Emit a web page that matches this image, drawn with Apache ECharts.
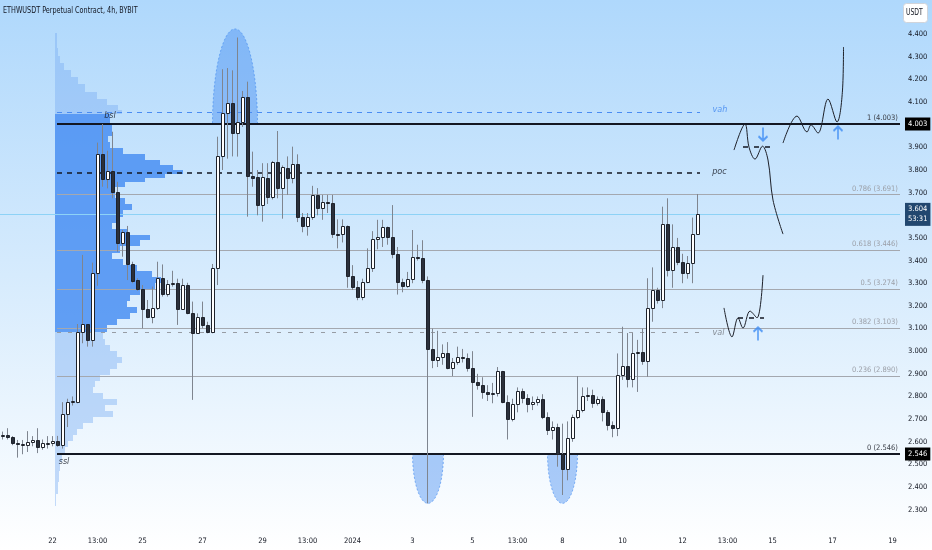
<!DOCTYPE html>
<html>
<head>
<meta charset="utf-8">
<title>ETHWUSDT 4h</title>
<script src="https://cdn.jsdelivr.net/npm/echarts@6/dist/echarts.min.js"></script>
<style>
html, body { margin: 0; padding: 0; background: #fff; }
#chart { width: 932px; height: 550px; }
</style>
</head>
<body>
<div id="chart"></div>
<script>
// 4h bars, the first one is Dec 20 08:00
var firstBar = Date.UTC(2023, 11, 20, 8);
var barCount = 180;
var timeTickBar = [10, 19, 28, 40, 52, 61, 70, 82, 94, 103, 112, 124, 136, 145, 154, 166, 178];
var timeTickText = ['22', '13:00', '25', '27', '29', '13:00', '2024', '3', '5', '13:00', '8', '10', '12', '13:00', '15', '17', '19'];
var priceTicks = [2.3, 2.4, 2.5, 2.6, 2.7, 2.8, 2.9, 3.0, 3.1, 3.2, 3.3, 3.4, 3.5, 3.7, 3.8, 3.9, 4.1, 4.2, 4.3, 4.4];

// open, close, low, high
var ohlc = [
  [2.625, 2.628, 2.61, 2.645], [2.628, 2.619, 2.61, 2.66], [2.619, 2.595, 2.585, 2.625], [2.594, 2.590, 2.53, 2.608],
  [2.590, 2.592, 2.545, 2.608], [2.585, 2.600, 2.555, 2.647], [2.599, 2.608, 2.58, 2.625], [2.608, 2.578, 2.55, 2.66],
  [2.578, 2.593, 2.565, 2.61], [2.593, 2.596, 2.57, 2.625], [2.596, 2.605, 2.58, 2.625], [2.605, 2.586, 2.578, 2.626],
  [2.586, 2.723, 2.57, 2.775], [2.723, 2.776, 2.665, 2.79], [2.776, 2.78, 2.76, 2.80], [2.777, 3.083, 2.77, 3.12],
  [3.083, 3.119, 3.035, 3.425], [3.119, 3.049, 3.02, 3.12], [3.049, 3.344, 3.02, 3.391], [3.344, 3.869, 3.289, 3.921],
  [3.869, 3.760, 3.726, 4.003], [3.760, 3.797, 3.719, 3.885], [3.797, 3.704, 3.675, 3.969], [3.704, 3.479, 3.439, 3.748],
  [3.479, 3.528, 3.417, 3.535], [3.528, 3.385, 3.314, 3.553], [3.385, 3.311, 3.30, 3.395], [3.314, 3.273, 3.267, 3.322],
  [3.273, 3.185, 3.101, 3.292], [3.185, 3.152, 3.145, 3.226], [3.152, 3.189, 3.123, 3.285], [3.189, 3.322, 3.182, 3.395],
  [3.322, 3.253, 3.241, 3.383], [3.253, 3.297, 3.241, 3.314], [3.301, 3.303, 3.285, 3.355], [3.303, 3.188, 3.116, 3.32],
  [3.188, 3.292, 3.182, 3.32], [3.292, 3.170, 3.163, 3.302], [3.170, 3.082, 2.785, 3.219], [3.082, 3.149, 3.079, 3.167],
  [3.149, 3.116, 3.101, 3.219], [3.116, 3.086, 3.079, 3.13], [3.086, 3.369, 3.079, 3.385], [3.369, 3.862, 3.292, 3.947],
  [3.862, 4.053, 3.80, 4.245], [4.053, 4.097, 3.85, 4.25], [4.097, 3.962, 3.86, 4.24], [3.962, 4.01, 3.859, 4.385],
  [4.01, 4.121, 3.99, 4.149], [4.121, 3.773, 3.594, 4.19], [3.773, 3.765, 3.726, 3.881], [3.770, 3.645, 3.60, 3.80],
  [3.645, 3.770, 3.572, 3.83], [3.763, 3.682, 3.65, 3.83], [3.682, 3.834, 3.67, 3.84], [3.834, 3.719, 3.675, 3.972],
  [3.719, 3.812, 3.585, 3.82], [3.807, 3.763, 3.69, 3.86], [3.763, 3.826, 3.741, 3.903], [3.826, 3.591, 3.57, 3.869],
  [3.591, 3.554, 3.525, 3.61], [3.554, 3.591, 3.51, 3.61], [3.591, 3.69, 3.58, 3.73], [3.69, 3.63, 3.60, 3.72],
  [3.63, 3.66, 3.58, 3.69], [3.66, 3.655, 3.61, 3.69], [3.655, 3.517, 3.50, 3.69], [3.517, 3.512, 3.454, 3.582],
  [3.517, 3.553, 3.48, 3.582], [3.553, 3.333, 3.28, 3.555], [3.333, 3.285, 3.27, 3.38], [3.285, 3.24, 3.225, 3.31],
  [3.24, 3.307, 3.225, 3.32], [3.307, 3.366, 3.30, 3.454], [3.366, 3.494, 3.35, 3.53], [3.494, 3.505, 3.45, 3.58],
  [3.505, 3.547, 3.46, 3.58], [3.547, 3.503, 3.47, 3.55], [3.503, 3.429, 3.41, 3.645], [3.429, 3.307, 3.25, 3.46],
  [3.307, 3.289, 3.26, 3.32], [3.289, 3.317, 3.28, 3.35], [3.317, 3.417, 3.30, 3.535], [3.417, 3.41, 3.40, 3.47],
  [3.41, 3.314, 3.30, 3.49], [3.314, 3.008, 2.328, 3.33], [3.008, 2.961, 2.925, 3.10], [2.961, 2.973, 2.93, 3.09],
  [2.973, 2.993, 2.94, 3.03], [2.993, 2.927, 2.92, 3.04], [2.927, 2.954, 2.89, 2.97], [2.954, 2.976, 2.94, 3.02],
  [2.976, 2.97, 2.95, 3.01], [2.97, 2.927, 2.91, 2.99], [2.927, 2.865, 2.71, 3.00], [2.865, 2.85, 2.83, 2.90],
  [2.85, 2.82, 2.79, 2.885], [2.82, 2.81, 2.78, 2.85], [2.81, 2.814, 2.77, 2.86], [2.814, 2.913, 2.80, 2.93],
  [2.913, 2.777, 2.77, 2.913], [2.777, 2.70, 2.61, 2.805], [2.70, 2.765, 2.69, 2.79], [2.765, 2.822, 2.73, 2.84],
  [2.822, 2.792, 2.77, 2.835], [2.792, 2.765, 2.73, 2.81], [2.765, 2.774, 2.74, 2.80], [2.774, 2.787, 2.76, 2.80],
  [2.787, 2.71, 2.70, 2.81], [2.71, 2.652, 2.63, 2.73], [2.652, 2.664, 2.61, 2.69], [2.664, 2.546, 2.49, 2.68],
  [2.546, 2.478, 2.365, 2.68], [2.478, 2.615, 2.43, 2.69], [2.615, 2.71, 2.60, 2.72], [2.71, 2.74, 2.70, 2.89],
  [2.74, 2.80, 2.73, 2.84], [2.80, 2.805, 2.78, 2.84], [2.805, 2.77, 2.75, 2.83], [2.77, 2.787, 2.76, 2.80],
  [2.787, 2.73, 2.69, 2.80], [2.73, 2.674, 2.65, 2.74], [2.674, 2.66, 2.62, 2.69], [2.66, 2.895, 2.625, 2.99],
  [2.895, 2.936, 2.873, 3.108], [2.936, 2.876, 2.84, 3.08], [2.876, 2.99, 2.84, 3.08], [2.99, 2.998, 2.82, 3.05],
  [2.998, 2.958, 2.94, 3.10], [2.958, 3.189, 2.887, 3.322], [3.189, 3.27, 3.13, 3.37], [3.27, 3.226, 3.21, 3.28],
  [3.226, 3.56, 3.19, 3.638], [3.56, 3.358, 3.33, 3.675], [3.358, 3.461, 3.28, 3.56], [3.461, 3.395, 3.38, 3.50],
  [3.395, 3.344, 3.30, 3.43], [3.344, 3.388, 3.32, 3.42], [3.388, 3.517, 3.30, 3.59], [3.517, 3.604, 3.53, 3.694]
];
var lastPrice = 3.604;
var countdown = '53:31';

// visible range volume profile: row price, relative volume
var profilePrice = [
  4.387, 4.352, 4.321, 4.286, 4.255, 4.224, 4.193, 4.162, 4.131, 4.10, 4.074, 4.056,
  4.038, 4.016, 3.99, 3.963, 3.937, 3.91, 3.884, 3.857, 3.831, 3.809, 3.791, 3.773, 3.756, 3.738, 3.716, 3.69,
  3.663, 3.637, 3.61, 3.579, 3.553, 3.526, 3.50, 3.478, 3.451, 3.42, 3.394, 3.367, 3.341, 3.314, 3.288, 3.261,
  3.235, 3.208, 3.182, 3.155, 3.129, 3.102,
  3.067, 3.041, 3.014, 2.988, 2.961, 2.935, 2.908, 2.882, 2.855, 2.829, 2.802, 2.776, 2.749, 2.723, 2.696, 2.67,
  2.643, 2.617, 2.59, 2.564, 2.528, 2.493, 2.449, 2.396, 2.343
];
var profileVol = [
  2, 2, 3, 5, 9, 16, 23, 30, 42, 52, 63, 67,
  55, 55, 57, 57, 53, 55, 68, 90, 105, 118, 128, 110, 90, 70, 58, 60,
  70, 77, 68, 62, 57, 72, 95, 85, 65, 57, 68, 82, 97, 106, 100, 85,
  75, 72, 82, 75, 62, 52,
  48, 50, 55, 62, 67, 62, 55, 45, 40, 38, 48, 62, 50, 58, 38, 28,
  22, 18, 13, 10, 7, 5, 4, 3, 1
];
var vah = 4.056, poc = 3.788, val = 3.085;
var levelStartBar = 10.9, levelEndBar = 139.5;

var fibRatio = [1, 0.786, 0.618, 0.5, 0.382, 0.236, 0];
var fibPrice = [4.003, 3.691, 3.446, 3.274, 3.103, 2.890, 2.546];

// liquidity sweeps: centre bar, half width in bars, base price, tip price
var sweepBar = [46.5, 85.1, 112.0];
var sweepHalf = [4.5, 3.1, 3.0];
var sweepBase = [4.003, 2.546, 2.546];
var sweepTip = [4.423, 2.328, 2.328];

var tagText = ['bsl', 'ssl', 'vah', 'poc', 'val'];
var tagBar = [21.5, 12.3, 143.5, 143.4, 143.2];
var tagPrice = [4.038, 2.511, 4.065, 3.793, 3.082];
var tagColor = ['#131722', '#131722', '#3f86f0', '#131722', '#6f747c'];

// hand drawn projections (bar, price)
var pathTopA = [[146.3, 3.888], [148.5, 4.003], [149.3, 3.901], [150.5, 3.848], [152.0, 3.905], [153.1, 3.844], [154.1, 3.667], [156.1, 3.517]];
var pathTopB = [[156.1, 3.919], [158.9, 4.038], [160.9, 3.968], [161.7, 3.999], [163.1, 3.963], [165.1, 4.113], [166.9, 4.012], [168.0, 4.153], [168.2, 4.343]];
var pathLow = [[144.3, 3.191], [145.9, 3.063], [147.1, 3.147], [148.1, 3.102], [149.5, 3.177], [150.9, 3.147], [152.1, 3.336]];
var dashTop = [[148.1, 3.901], [154.4, 3.901]];
var dashLow = [[147.1, 3.147], [152.3, 3.147]];
var arrowBar = [152.1, 151.1, 167.1];
var arrowPrice = [3.959, 3.076, 3.963];
var arrowDir = ['down', 'up', 'up'];

var uiFont = "'Liberation Sans Narrow', 'DejaVu Sans Condensed', 'Liberation Sans', sans-serif";
var yMin = 2.2105, yMax = 4.5505;

var categories = [];
for (var i = 0; i < barCount; i++) {
  var d = new Date(firstBar + i * 4 * 3600 * 1000);
  categories.push(d.toISOString().slice(5, 13).replace('T', ' ') + ':00');
}
var tickAt = {};
timeTickBar.forEach(function (b, k) { tickAt[b] = timeTickText[k]; });

function renderCandle(params, api) {
  var x = api.value(0);
  var o = api.value(1), c = api.value(2), l = api.value(3), h = api.value(4);
  var pO = api.coord([x, o]), pC = api.coord([x, c]);
  var pL = api.coord([x, l]), pH = api.coord([x, h]);
  var cx = Math.round(pO[0] - 0.5) + 0.5;
  var top = Math.round(Math.min(pO[1], pC[1])) + 0.5;
  var bot = Math.round(Math.max(pO[1], pC[1])) + 0.5;
  var up = c >= o;
  return {
    type: 'group',
    children: [
      { type: 'line', shape: { x1: cx, y1: pH[1], x2: cx, y2: pL[1] }, style: { stroke: '#7f858f', lineWidth: 1 } },
      { type: 'rect', shape: { x: cx - 1, y: top, width: 3, height: Math.max(bot - top, 1) },
        style: { fill: up ? '#ffffff' : '#2b303b', stroke: '#1e222b', lineWidth: 1 } }
    ]
  };
}

function renderProfile(params, api) {
  var k = params.dataIndex, n = profilePrice.length;
  var p = profilePrice[k];
  var hi = k > 0 ? (profilePrice[k - 1] + p) / 2 : p + (p - profilePrice[k + 1]) / 2;
  var lo = k < n - 1 ? (p + profilePrice[k + 1]) / 2 : p - (profilePrice[k - 1] - p) / 2;
  var a = api.coord([0, hi]);
  var b = api.coord([api.value(0), lo]);
  var y0 = Math.round(a[1]), y1 = Math.round(b[1]);
  var inside = p > val && p < vah - 0.001;
  return {
    type: 'rect',
    shape: { x: a[0], y: y0, width: b[0] - a[0], height: Math.max(y1 - y0, 1) },
    style: { fill: inside ? 'rgba(72,142,242,0.84)' : 'rgba(118,172,244,0.42)' }
  };
}

function renderSweep(params, api) {
  var cx = api.value(0), hw = api.value(1), base = api.value(2), tip = api.value(3);
  var pts = [];
  for (var s = 0; s <= 40; s++) {
    var t = Math.PI * s / 40;
    pts.push(api.coord([cx + hw * Math.cos(t), base + (tip - base) * Math.sin(t)]));
  }
  return {
    type: 'polygon',
    shape: { points: pts },
    style: { fill: 'rgba(62,136,240,0.42)', stroke: 'rgba(62,136,240,0.75)', lineWidth: 0.8, lineDash: [2, 2] }
  };
}

var lineLevels = [];
fibRatio.forEach(function (r, k) {
  var edge = (r === 1 || r === 0);
  lineLevels.push([
    { coord: [levelStartBar, fibPrice[k]],
      lineStyle: { color: edge ? '#131722' : '#a4a8af', width: edge ? 2 : 1.2, type: 'solid' },
      label: { show: true, position: 'insideEndTop', distance: 2,
        formatter: r + ' (' + fibPrice[k].toFixed(3) + ')',
        color: edge ? '#3c4049' : '#9b9fa7', fontSize: 7.5, fontFamily: uiFont } },
    { coord: [barCount - 0.5, fibPrice[k]] }
  ]);
});
lineLevels.push([
  { coord: [levelStartBar, vah], lineStyle: { color: '#4a8cf2', width: 1, type: [5, 5] }, label: { show: false } },
  { coord: [levelEndBar, vah] }
]);
lineLevels.push([
  { coord: [levelStartBar, poc], lineStyle: { color: '#131722', width: 1.5, type: [5, 5] }, label: { show: false } },
  { coord: [levelEndBar, poc] }
]);
lineLevels.push([
  { coord: [levelStartBar, val], lineStyle: { color: '#979ca4', width: 1, type: [4, 7] }, label: { show: false } },
  { coord: [levelEndBar, val] }
]);
lineLevels.push([
  { coord: [-0.5, lastPrice], lineStyle: { color: '#8dd2f6', width: 1, type: 'solid' }, label: { show: false } },
  { coord: [barCount - 0.5, lastPrice] }
]);

function priceBox(p, text, bg) {
  return [
    { coord: [barCount - 0.6, p], lineStyle: { color: 'rgba(0,0,0,0)', width: 1 },
      label: { show: true, position: 'end', distance: 5, formatter: text, color: '#ffffff',
        backgroundColor: bg, padding: [2, 3, 1, 3], fontSize: 7.5, lineHeight: 10, fontFamily: uiFont } },
    { coord: [barCount - 0.5, p] }
  ];
}
lineLevels.push(priceBox(fibPrice[0], fibPrice[0].toFixed(3), '#000000'));
lineLevels.push(priceBox(fibPrice[6], fibPrice[6].toFixed(3), '#000000'));
lineLevels.push(priceBox(lastPrice, lastPrice.toFixed(3) + '\n' + countdown, '#22476f'));

var sketchStyle = { color: '#1d2029', width: 1 };
var arrowPath = 'path://M0,6 L6,0 L12,6 M6,0 L6,18';

var chart = echarts.init(document.getElementById('chart'));
chart.setOption({
  animation: false,
  backgroundColor: new echarts.graphic.LinearGradient(0, 0, 0, 1, [
    { offset: 0, color: '#afd8fc' },
    { offset: 0.5, color: '#d6ebfd' },
    { offset: 1, color: '#ffffff' }
  ]),
  grid: [
    { left: 0, right: 32, top: 0, bottom: 20 },
    { left: 55, right: 32, top: 0, bottom: 20 }
  ],
  xAxis: [
    { type: 'category', data: categories, boundaryGap: true,
      axisLine: { show: false }, axisTick: { show: false }, splitLine: { show: false },
      axisLabel: { interval: function (idx) { return tickAt[idx] !== undefined; },
        formatter: function (v, idx) { return tickAt[idx] || ''; },
        color: '#131722', fontSize: 7.5, fontFamily: uiFont, margin: 7 } },
    { type: 'value', min: -0.5, max: barCount - 0.5, show: false },
    { type: 'value', gridIndex: 1, min: 0, max: 845, show: false }
  ],
  yAxis: [
    { type: 'value', position: 'right', min: yMin, max: yMax,
      axisLine: { show: false }, axisTick: { show: false }, splitLine: { show: false },
      axisLabel: { customValues: priceTicks, formatter: function (v) { return v.toFixed(3); },
        color: '#131722', fontSize: 7.5, fontFamily: uiFont, margin: 8 } },
    { type: 'value', gridIndex: 1, min: yMin, max: yMax, show: false }
  ],
  graphic: [
    { type: 'text', x: 3, y: 6, scaleX: 0.8, z: 10,
      style: { text: 'ETHWUSDT Perpetual Contract, 4h, BYBIT', fill: '#131722', font: '9px ' + uiFont } },
    { type: 'rect', left: 903, top: 3, z: 10, shape: { width: 24, height: 19, r: 3 },
      style: { fill: '#ffffff', stroke: '#d1d4da', lineWidth: 1 } },
    { type: 'text', x: 906, y: 9, scaleX: 0.85, z: 11,
      style: { text: 'USDT', fill: '#131722', font: '8px ' + uiFont } }
  ],
  series: [
    { name: 'volume profile', type: 'custom', xAxisIndex: 2, yAxisIndex: 1, z: 1, silent: true,
      renderItem: renderProfile,
      data: profilePrice.map(function (p, k) { return [profileVol[k], p]; }) },
    { name: 'sweeps', type: 'custom', xAxisIndex: 1, yAxisIndex: 0, z: 2, silent: true,
      renderItem: renderSweep,
      data: sweepBar.map(function (b, k) { return [b, sweepHalf[k], sweepBase[k], sweepTip[k]]; }) },
    { name: 'levels', type: 'line', xAxisIndex: 1, yAxisIndex: 0, z: 3, clip: false, data: [],
      markLine: { silent: true, symbol: ['none', 'none'], animation: false, data: lineLevels } },
    { name: 'ETHWUSDT', type: 'custom', xAxisIndex: 0, yAxisIndex: 0, z: 5,
      renderItem: renderCandle, encode: { x: 0, y: [1, 2, 3, 4] },
      data: ohlc.map(function (r, k) { return [k, r[0], r[1], r[2], r[3]]; }) },
    { type: 'line', xAxisIndex: 1, z: 6, smooth: 0.35, showSymbol: false, lineStyle: sketchStyle, data: pathTopA },
    { type: 'line', xAxisIndex: 1, z: 6, smooth: 0.35, showSymbol: false, lineStyle: sketchStyle, data: pathTopB },
    { type: 'line', xAxisIndex: 1, z: 6, smooth: 0.35, showSymbol: false, lineStyle: sketchStyle, data: pathLow },
    { type: 'line', xAxisIndex: 1, z: 6, showSymbol: false,
      lineStyle: { color: '#131722', width: 1.5, type: [5, 6] }, data: dashTop },
    { type: 'line', xAxisIndex: 1, z: 6, showSymbol: false,
      lineStyle: { color: '#131722', width: 1.5, type: [5, 6] }, data: dashLow },
    { name: 'arrows', type: 'scatter', xAxisIndex: 1, z: 7, silent: true,
      symbol: arrowPath, symbolSize: [9, 13],
      itemStyle: { color: 'rgba(0,0,0,0)', borderColor: '#3d8cf4', borderWidth: 2 },
      data: arrowBar.map(function (b, k) {
        return { value: [b, arrowPrice[k]], symbolRotate: arrowDir[k] === 'down' ? 180 : 0 };
      }) },
    { name: 'tags', type: 'scatter', xAxisIndex: 1, z: 8, silent: true, symbolSize: 0,
      data: tagText.map(function (t, k) {
        return { value: [tagBar[k], tagPrice[k]],
          label: { show: true, position: 'inside', formatter: t, color: tagColor[k],
            fontSize: 9, fontStyle: 'italic', fontFamily: uiFont } };
      }) }
  ]
});
</script>
</body>
</html>
